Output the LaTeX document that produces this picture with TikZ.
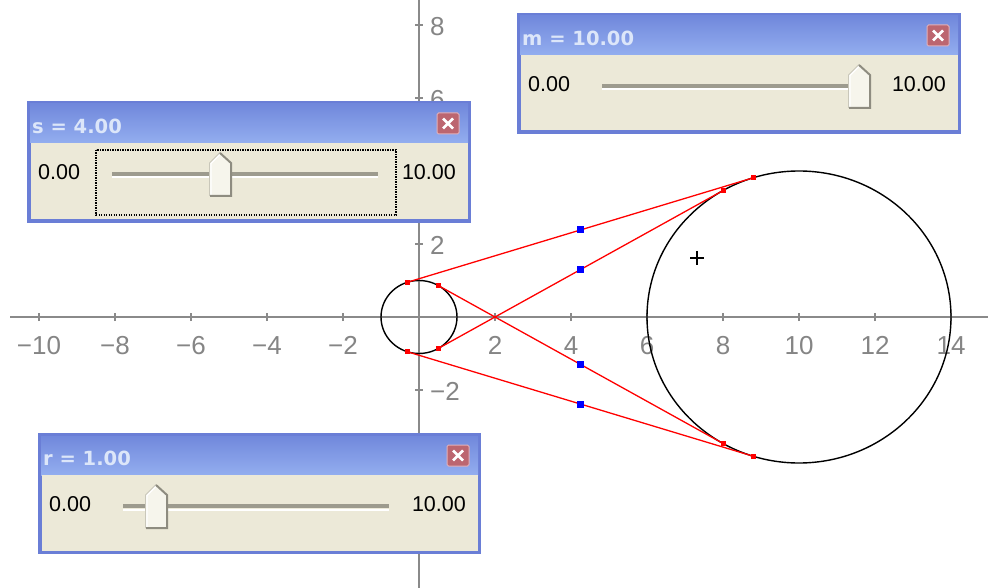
\documentclass[tikz,border=0pt]{standalone}
\usepackage{fontspec}
\setmainfont{Liberation Sans}
\newfontfamily\titlefont{DejaVu Sans}
\usetikzlibrary{calc}
\definecolor{axisgray}{HTML}{8A8A8A}
\definecolor{ticktext}{HTML}{858585}
\definecolor{xpborder}{HTML}{6A7ED6}
\definecolor{xptitleA}{HTML}{7188DC}
\definecolor{xptitleB}{HTML}{93AEEF}
\definecolor{xpbody}{HTML}{ECE9D8}
\definecolor{xptitletext}{HTML}{DCE6F9}
\definecolor{xpclose}{HTML}{BC6670}
\definecolor{xpcloseedge}{HTML}{E0B0BA}
\definecolor{trackgray}{HTML}{9D9B8E}
\definecolor{thumbfill}{HTML}{F6F5EC}
\definecolor{thumbshadow}{HTML}{8E8C80}
\definecolor{thumbedge}{HTML}{C9C7BA}
\definecolor{ptred}{HTML}{FF0000}
\definecolor{ptblue}{HTML}{0000FF}

\tikzset{
  axisline/.style={draw=axisgray, line width=1.4pt},
  ticklabel/.style={text=ticktext, font=\fontsize{26}{28}\selectfont, inner sep=0pt},
  titletext/.style={text=xptitletext, font=\titlefont\bfseries\fontsize{19.5}{22}\selectfont, inner sep=0pt},
  bodytext/.style={text=black, font=\fontsize{21.5}{24}\selectfont, inner sep=0pt},
  closebtn/.style={fill=xpclose, draw=xpcloseedge, line width=1pt, rounded corners=1.5pt},
  circ/.style={draw=black, line width=1.4pt},
  tangent/.style={draw=ptred, line width=1.3pt},
  reddot/.style={rectangle, fill=ptred, minimum size=5pt, inner sep=0pt},
  bluedot/.style={rectangle, fill=ptblue, minimum size=7pt, inner sep=0pt},
  focusrect/.style={draw=black, line width=1.1pt, dash pattern=on 1.1pt off 1.4pt},
}

% #1 name, #2 x1, #3 y1, #4 x2, #5 y2, #6 title, #7 thumb left x
\newcommand\xpwin[7]{%
  \fill[xpborder] (#2,#3) rectangle (#4,#5);
  \shade[top color=xptitleA, bottom color=xptitleB] (#2+3,#3+3) rectangle (#4-3,#3+42);
  \fill[xpbody] (#2+3.5,#3+42) rectangle (#4-3.5,#5-3.5);
  \node[titletext, anchor=west] (#1title) at (#2+5,#3+25) {#6};
  \draw[closebtn] (#4-34,#3+12) rectangle (#4-12,#3+33);
  \draw[white, line width=2.8pt] (#4-28,#3+17.5) -- (#4-18,#3+27.5) (#4-28,#3+27.5) -- (#4-18,#3+17.5);
  \node[bodytext, anchor=west] (#1min) at (#2+11,#3+71.5) {0.00};
  \node[bodytext, anchor=east] (#1max) at (#4-15,#3+71.5) {10.00};
  \draw[trackgray, line width=3.5pt] (#2+85,#3+73) -- (#2+351,#3+73);
  \draw[white, line width=2pt] (#2+85,#3+76.5) -- (#2+351,#3+76.5);
  \fill[thumbfill] (#7,#3+95) -- (#7,#3+62) -- (#7+10,#3+52) -- (#7+21,#3+62) -- (#7+21,#3+95) -- cycle;
  \draw[thumbedge, line width=0.8pt] (#7-0.5,#3+95) -- (#7-0.5,#3+62) -- (#7+10,#3+51.5);
  \draw[white, line width=1.2pt] (#7+1,#3+94) -- (#7+1,#3+62.5) -- (#7+10,#3+53.5);
  \draw[thumbshadow, line width=2pt] (#7+10,#3+52) -- (#7+21,#3+62) -- (#7+21,#3+95) -- (#7,#3+95);
}

\begin{document}
\begin{tikzpicture}[x=1pt, y=-1pt]
\useasboundingbox (0,0) rectangle (988,588);
\fill[white] (0,0) rectangle (988,588);

\begin{scope}[shift={(419pt,-317pt)}, x=38pt, y=36.5pt]
  % axes
  \draw[axisline] (-10.76,0) -- (14.97,0);
  \draw[axisline] (0,-7.45) -- (0,8.69);
  \foreach \i in {-10,-8,-6,-4,-2,2,4,6,8,10,12,14}
    \draw[axisline] (\i,-0.11) -- (\i,0.11);
  \foreach \j in {-6,-4,-2,2,4,6,8}
    \draw[axisline] (-0.105,\j) -- (0.105,\j);
  \foreach \i/\t/\n in {-10/−10/m10,-8/−8/m8,-6/−6/m6,-4/−4/m4,-2/−2/m2,2/2/p2,4/4/p4,6/6/p6,8/8/p8,10/10/p10,12/12/p12,14/14/p14}
    \node[ticklabel] (xl\n) at (\i,-0.77) {\t};
  \foreach \j/\t/\n in {8/8/p8,6/6/p6,2/2/p2,-2/−2/m2}
    \node[ticklabel, anchor=west] (yl\n) at (0.29,\j-0.05) {\t};

  % circles
  \draw[circ] (0,0) circle [radius=1];
  \draw[circ] (10,0) circle [radius=4];

  % tangent points
  \coordinate (A1) at (-0.3,0.9539);  \coordinate (A2) at (8.8,3.8158);
  \coordinate (B1) at (-0.3,-0.9539); \coordinate (B2) at (8.8,-3.8158);
  \coordinate (C1) at (0.5,0.8660);   \coordinate (C2) at (8,-3.4641);
  \coordinate (D1) at (0.5,-0.8660);  \coordinate (D2) at (8,3.4641);

  \draw[tangent] (A1) -- (A2);
  \draw[tangent] (B1) -- (B2);
  \draw[tangent] (C1) -- (C2);
  \draw[tangent] (D1) -- (D2);

  \foreach \p in {A1,A2,B1,B2,C1,C2,D1,D2}
    \node[reddot] (r\p) at (\p) {};

  \node[bluedot] (mA) at ($(A1)!0.5!(A2)$) {};
  \node[bluedot] (mB) at ($(B1)!0.5!(B2)$) {};
  \node[bluedot] (mC) at ($(C1)!0.5!(C2)$) {};
  \node[bluedot] (mD) at ($(D1)!0.5!(D2)$) {};
\end{scope}

% crosshair cursor
\draw[black, line width=1.1pt] (690,258) -- (704,258) (697,251) -- (697,265);

% slider windows
\xpwin{m}{517}{13}{961}{134}{m = 10.00}{849}
\xpwin{s}{27}{101}{471}{223}{s = 4.00}{210}
\draw[focusrect] (96,150) rectangle (396,215);
\xpwin{r}{38}{433}{481}{554}{r = 1.00}{146}
\end{tikzpicture}
\end{document}
